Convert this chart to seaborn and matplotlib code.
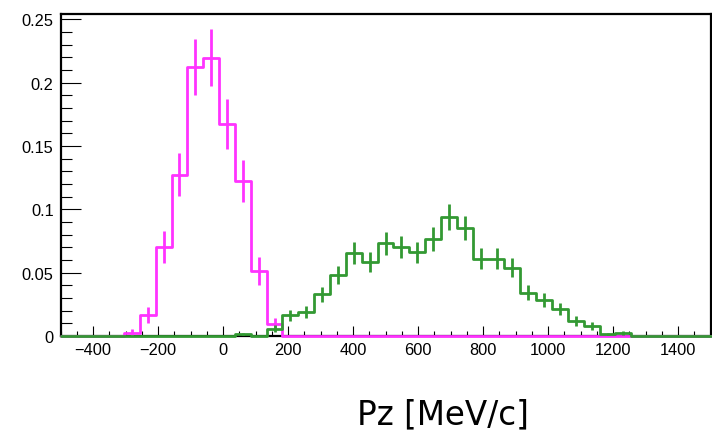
import numpy as np
import pandas as pd
import matplotlib
matplotlib.use("Agg")
import matplotlib.pyplot as plt
from matplotlib.ticker import MultipleLocator, FuncFormatter
import seaborn as sns

# Binning: 41 equal bins over [-500, 1500] MeV/c
x_lo, x_hi, n_bins = -500.0, 1500.0, 41

# Normalised bin contents (first bin index, then values)
magenta_first_bin = 4
magenta_values = [0.0027, 0.0166, 0.0704, 0.1274, 0.2126, 0.2197,
                  0.1677, 0.1226, 0.0514, 0.0093]
magenta_entries = 435

green_first_bin = 11
green_values = [0.0013, 0.0, 0.0058, 0.0165, 0.0190, 0.0330, 0.0480,
                0.0654, 0.0585, 0.0733, 0.0704, 0.0660, 0.0765, 0.0942,
                0.0852, 0.0612, 0.0612, 0.0540, 0.0343, 0.0285, 0.0211,
                0.0119, 0.0079, 0.0013, 0.0026]
green_entries = 905

x_label = "Pz [MeV/c]"

edges = np.linspace(x_lo, x_hi, n_bins + 1)
centers = 0.5 * (edges[:-1] + edges[1:])


def full_hist(first, vals):
    h = np.zeros(n_bins)
    h[first:first + len(vals)] = vals
    return h


h_mag = full_hist(magenta_first_bin, magenta_values)
h_grn = full_hist(green_first_bin, green_values)

# Step outline: one point per bin edge, last content repeated at the end
outline = pd.DataFrame({
    "edge": np.concatenate([edges, edges]),
    "content": np.concatenate([np.append(h_mag, h_mag[-1]),
                               np.append(h_grn, h_grn[-1])]),
    "sample": ["mag"] * (n_bins + 1) + ["grn"] * (n_bins + 1),
})

col_mag = "#ff33ff"
col_grn = "#339933"

sns.set_style("white")
plt.rcParams["font.family"] = ["Liberation Sans", "DejaVu Sans"]

fig = plt.figure(figsize=(7.12, 4.35), dpi=100)
ax = fig.add_axes([0.085, 0.2253, 0.913, 0.7402])

for i, (name, col, entries, h) in enumerate(
        [("mag", col_mag, magenta_entries, h_mag),
         ("grn", col_grn, green_entries, h_grn)]):
    sub = outline[outline["sample"] == name]
    sns.lineplot(data=sub, x="edge", y="content", estimator=None,
                 sort=False, drawstyle="steps-post", color=col,
                 linewidth=2.0, zorder=3 + i, clip_on=False, ax=ax)
    nz = h > 0
    err = np.sqrt(h[nz] / entries)
    ax.errorbar(centers[nz], h[nz], yerr=err, fmt="none", ecolor=col,
                elinewidth=2.0, capsize=0, zorder=3 + i)

ax.set_xlim(x_lo, x_hi)
ax.set_ylim(0, 0.2543)
ax.set_ylabel("")
ax.set_xlabel("")

for sp in ax.spines.values():
    sp.set_linewidth(1.6)
    sp.set_color("black")
    sp.set_visible(True)

ax.xaxis.set_major_locator(MultipleLocator(200))
ax.xaxis.set_minor_locator(MultipleLocator(50))
ax.yaxis.set_major_locator(MultipleLocator(0.05))
ax.yaxis.set_minor_locator(MultipleLocator(0.01))
ax.yaxis.set_major_formatter(FuncFormatter(lambda v, p: f"{v:g}"))
ax.xaxis.set_major_formatter(
    FuncFormatter(lambda v, p: f"{v:.0f}".replace("-", "\u2212")))

ax.tick_params(axis="x", which="major", direction="in", length=7.2,
               width=0.8, pad=4.5, labelsize=11.8, bottom=True, top=False,
               color="black", labelcolor="black")
ax.tick_params(axis="x", which="minor", direction="in", length=3.6,
               width=0.8, bottom=True, top=False, color="black")
ax.tick_params(axis="y", which="major", direction="in", length=14.4,
               width=0.8, pad=5, labelsize=11.8, left=True, right=False,
               color="black", labelcolor="black")
ax.tick_params(axis="y", which="minor", direction="in", length=7.9,
               width=0.8, left=True, right=False, color="black")

fig.text(443 / 712, 1 - 415 / 435, x_label, ha="center", va="center",
         fontsize=23.5, color="black", family=["DejaVu Sans"])

fig.savefig("out.png", dpi=100)
